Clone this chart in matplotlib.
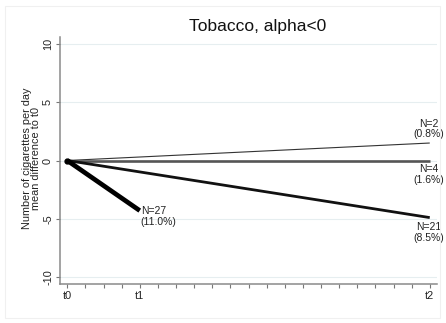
import numpy as np
import matplotlib
matplotlib.use("Agg")
import matplotlib.pyplot as plt
from matplotlib.patches import Rectangle

plt.rcParams['font.family'] = ['Liberation Sans', 'DejaVu Sans']

# Data
time_positions = [0, 1, 5]
time_labels = ["t0", "t1", "t2"]
series_n = [2, 4, 21, 27]
series_pct = ["0.8%", "1.6%", "8.5%", "11.0%"]
series_end_time = [5, 5, 5, 1]
series_end_value = [1.5, 0.0, -4.9, -4.3]
yticks = [-10, -5, 0, 5, 10]

# Styles
widths = [0.8, 1.9, 2.0, 3.4]
colors = ["#333333", "#555555", "#111111", "#000000"]
label_offsets = [(-1, 14), (-1, -14), (-1, -15), (1, -6)]
label_ha = ["center", "center", "center", "left"]

W, H, DPI = 446, 323, 100
fig = plt.figure(figsize=(W / DPI, H / DPI), dpi=DPI)
fig.patch.set_facecolor("white")
fig.patches.append(Rectangle((5 / W, 5 / H), 435 / W, 312 / H, transform=fig.transFigure,
                             fill=False, edgecolor="#f0f0f0", lw=0.8))

ax = fig.add_axes([60 / W, 1 - 284 / H, 377 / W, 247 / H])
ax.set_xlim(-0.1, 5.1)
ax.set_ylim(-10.6, 10.6)

for y in yticks:
    ax.axhline(y, color="#e6eef0", lw=0.8, zorder=0)

for n, pct, te, ve, lw, c, off, ha in zip(series_n, series_pct, series_end_time,
                                           series_end_value, widths, colors,
                                           label_offsets, label_ha):
    ax.plot([0, te], [0, ve], color=c, lw=lw, solid_capstyle="butt", zorder=3)
    ax.annotate(f"N={n}\n({pct})", xy=(te, ve), xytext=off, textcoords="offset pixels",
                ha=ha, va="center", fontsize=7.5, color="#222222", linespacing=1.1,
                zorder=4)

ax.plot([0], [0], "o", color="black", ms=3.5, zorder=5)

for s in ["top", "right"]:
    ax.spines[s].set_visible(False)
for s in ["left", "bottom"]:
    ax.spines[s].set_color("#8a8a8a")
    ax.spines[s].set_linewidth(1.1)

ax.set_yticks(yticks)
ax.set_yticklabels([str(v) for v in yticks], rotation=90, va="center")
ax.set_xticks(time_positions)
ax.set_xticklabels(time_labels)
ax.set_xticks(np.arange(0, 5.01, 0.25), minor=True)
ax.tick_params(axis="both", which="both", direction="out", length=3, width=0.8,
               color="#777777", labelsize=7.8, labelcolor="#222222", pad=2)

ax.set_ylabel("Number of cigarettes per day\nmean difference to t0", fontsize=7.8,
              color="#222222", linespacing=0.95)
ax.yaxis.set_label_coords(-0.05, 0.51)

fig.text(258 / W, 1 - 27 / H, "Tobacco, alpha<0", ha="center", va="center",
         fontsize=12.5, color="#111111")

fig.savefig("out.png", dpi=DPI, facecolor="white")
